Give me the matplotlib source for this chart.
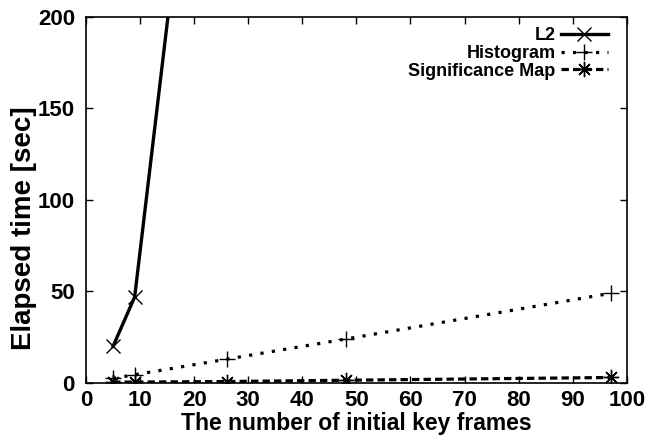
import numpy as np
import matplotlib
matplotlib.use('Agg')
import matplotlib.pyplot as plt

# data
l2_x = [5, 9, 26]
l2_y = [20, 47, 470]
hist_x = [5, 9, 26, 48, 97]
hist_y = [2.5, 4.5, 13, 24, 49]
sig_x = [5, 9, 26, 48, 97]
sig_y = [0.5, 0.5, 0.8, 1.5, 3]

xticks = [0, 10, 20, 30, 40, 50, 60, 70, 80, 90, 100]
yticks = [0, 50, 100, 150, 200]

plt.rcParams['font.family'] = ['Liberation Sans', 'DejaVu Sans']
plt.rcParams['font.weight'] = 'bold'

fig = plt.figure(figsize=(6.64, 4.36), dpi=100)
ax = fig.add_axes([0.1295, 0.1216, 0.8145, 0.8394])

ax.plot(l2_x, l2_y, color='black', linewidth=2.4, linestyle='-',
        marker='x', markersize=9.5, markeredgewidth=1.0, label='L2')
ax.plot(hist_x, hist_y, color='black', linewidth=2.3, linestyle=(0, (1, 2.6)),
        marker='+', markersize=11, markeredgewidth=1.0, label='Histogram')
ax.plot(sig_x, sig_y, color='black', linewidth=2.3, linestyle=(0, (2.3, 1.3)),
        marker=(8, 2, 0), markersize=11, markeredgewidth=1.0, label='Significance Map')

ax.set_xlim(0, 100)
ax.set_ylim(0, 200)
ax.set_xticks(xticks)
ax.set_yticks(yticks)
ax.tick_params(direction='in', length=5, width=1, top=True, right=True,
               labelsize=16)
ax.tick_params(axis='y', pad=8)
ax.tick_params(axis='x', pad=5)
for lbl in ax.get_xticklabels() + ax.get_yticklabels():
    lbl.set_fontweight('bold')
for s in ax.spines.values():
    s.set_linewidth(1.2)

ax.set_xlabel('The number of initial key frames', fontsize=16.5, fontweight='bold', labelpad=1)
ax.set_ylabel('Elapsed time [sec]', fontsize=20, fontweight='bold')
ax.yaxis.set_label_coords(-0.09, 0.424)

leg = ax.legend(loc='upper right', bbox_to_anchor=(0.98, 0.995), frameon=False,
                markerfirst=False, fontsize=13,
                handlelength=2.6, handletextpad=0.3, labelspacing=0.05,
                borderaxespad=0.45, borderpad=0.0)
for t in leg.get_texts():
    t.set_fontweight('bold')

fig.savefig('out.png', dpi=100)
